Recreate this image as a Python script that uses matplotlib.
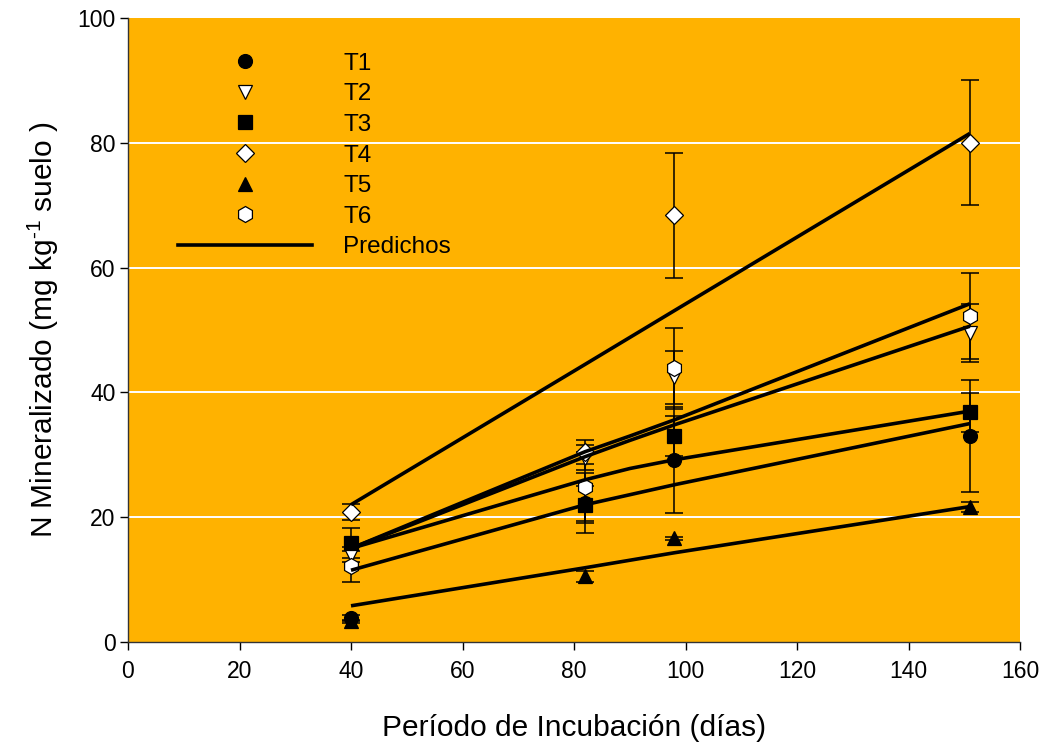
import matplotlib
matplotlib.use("Agg")
import matplotlib.pyplot as plt
from matplotlib.lines import Line2D

plt.rcParams["font.family"] = ["Liberation Sans", "DejaVu Sans"]
plt.rcParams["mathtext.fontset"] = "custom"
plt.rcParams["mathtext.rm"] = "Liberation Sans"
plt.rcParams["mathtext.it"] = "Liberation Sans:italic"
plt.rcParams["mathtext.default"] = "regular"

# Observed mineralised N (mg/kg soil) at each sampling day
days = [40, 82, 98, 151]
treatments = ["T1", "T2", "T3", "T4", "T5", "T6"]

t1_mean = [3.8, 22.3, 29.2, 33.0]
t2_mean = [14.0, 29.5, 42.4, 49.5]
t3_mean = [15.9, 22.0, 33.0, 36.8]
t4_mean = [20.8, 30.5, 68.4, 80.0]
t5_mean = [3.3, 10.5, 16.6, 21.7]
t6_mean = [12.1, 24.9, 43.9, 52.3]

t1_err = [0.5, 4.8, 8.5, 9.0]
t2_err = [1.2, 2.0, 4.3, 4.7]
t3_err = [2.4, 3.0, 3.2, 3.1]
t4_err = [1.3, 1.9, 10.0, 10.0]
t5_err = [0.3, 0.9, 0.3, 0.8]
t6_err = [2.5, 5.5, 6.5, 6.9]

# Model predictions
pred_days = [40, 82, 90, 98, 151]
t1_pred = [11.5, 22.0, 23.6, 25.2, 35.0]
t2_pred = [15.0, 29.7, 32.3, 34.8, 50.6]
t3_pred = [15.0, 26.0, 27.8, 29.2, 37.0]
t4_pred = [22.0, 44.5, 48.8, 53.1, 81.5]
t5_pred = [5.8, 11.9, 13.1, 14.3, 21.7]
t6_pred = [15.0, 30.5, 33.0, 35.6, 54.2]

x_ticks = [0, 20, 40, 60, 80, 100, 120, 140, 160]
y_ticks = [0, 20, 40, 60, 80, 100]

means = [t1_mean, t2_mean, t3_mean, t4_mean, t5_mean, t6_mean]
errs = [t1_err, t2_err, t3_err, t4_err, t5_err, t6_err]
preds = [t1_pred, t2_pred, t3_pred, t4_pred, t5_pred, t6_pred]

styles = [
    dict(marker="o", mfc="black", ms=10),
    dict(marker="v", mfc="white", ms=10.5),
    dict(marker="s", mfc="black", ms=10.5),
    dict(marker="D", mfc="white", ms=9),
    dict(marker="^", mfc="black", ms=10.5),
    dict(marker="h", mfc="white", ms=11.5),
]

fig = plt.figure(figsize=(10.46, 7.46), dpi=100)
ax = fig.add_axes([128 / 1046, 104 / 746, 892 / 1046, 624 / 746])
ax.set_facecolor("#FFB200")

for y in y_ticks[1:-1]:
    ax.axhline(y, color="white", lw=1.4, zorder=1)

handles = []
for name, m, e, st in zip(treatments, means, errs, styles):
    ax.errorbar(days, m, yerr=e, fmt="none", ecolor="black", elinewidth=1.1,
                capsize=6.5, capthick=1.1, zorder=2)
    ax.plot(days, m, ls="none", marker=st["marker"], mfc=st["mfc"], mec="black",
            mew=0.9, ms=st["ms"], zorder=3)
    handles.append(Line2D([], [], ls="none", marker=st["marker"], mfc=st["mfc"],
                          mec="black", mew=0.9, ms=st["ms"], label=name))

for p in preds:
    ax.plot(pred_days, p, color="black", lw=2.6, zorder=4, solid_capstyle="butt")

handles.append(Line2D([], [], color="black", lw=2.6, label="Predichos"))

ax.set_xlim(0, 160)
ax.set_ylim(0, 100)
ax.set_xticks(x_ticks)
ax.set_yticks(y_ticks)
ax.tick_params(direction="out", length=6, width=1, labelsize=16.5)
ax.tick_params(axis="x", pad=7)
ax.tick_params(axis="y", pad=3)

for side in ("top", "right"):
    ax.spines[side].set_visible(False)
for side in ("left", "bottom"):
    ax.spines[side].set_color("#333333")
    ax.spines[side].set_linewidth(1.0)

ax.set_xlabel("Período de Incubación (días)", fontsize=21.5, labelpad=22)
ax.set_ylabel("N Mineralizado (mg kg$^{\\text{-1}}$ suelo )", fontsize=21.5,
              labelpad=12)

ax.legend(handles=handles, loc="upper left", bbox_to_anchor=(0.056, 0.944),
          frameon=False, fontsize=17.5, handlelength=5.5, handletextpad=1.3,
          labelspacing=0.35, borderpad=0, borderaxespad=0)

fig.savefig("out.png", dpi=100)
